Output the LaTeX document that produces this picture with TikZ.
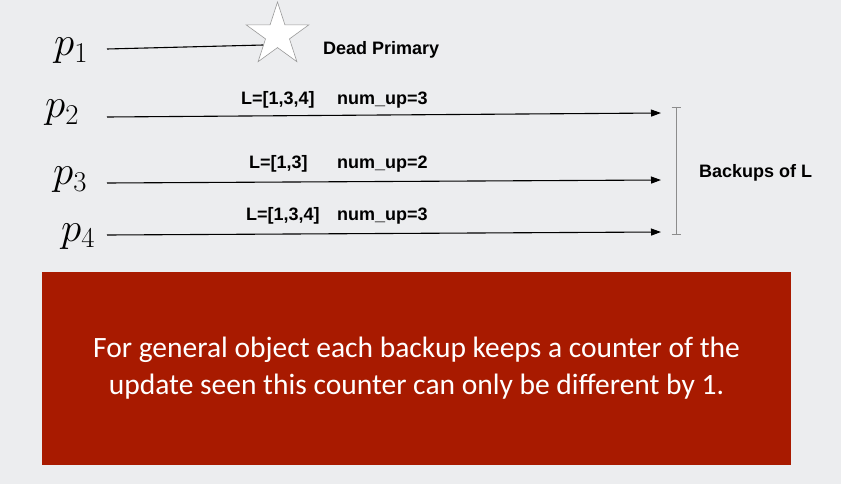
\RequirePackage{fix-cm}
\documentclass[tikz,border=0pt]{standalone}
\usepackage{fontspec}
\setmainfont{Latin Modern Roman}
\newfontfamily\lab{Liberation Sans}
\newfontfamily\boxfont{Carlito}
\usetikzlibrary{arrows.meta,shapes.geometric}
\definecolor{bg}{RGB}{236,237,239}
\definecolor{boxred}{RGB}{168,26,0}
\definecolor{brk}{RGB}{140,140,140}
\tikzset{
  plabel/.style={anchor=base west, inner sep=0pt, font=\fontsize{41}{44}\selectfont},
  tlabel/.style={anchor=base west, inner sep=0pt, font=\lab\bfseries\fontsize{18}{20}\selectfont},
  msg/.style={-{Triangle[length=10pt,width=7pt]}, line width=1.1pt, black},
  life/.style={line width=1.1pt, black},
}
\begin{document}
\begin{tikzpicture}[x=1pt,y=-1pt]
\fill[bg] (0,0) rectangle (841,484);
\useasboundingbox (0,0) rectangle (841,484);
% process labels
\node[plabel] (p1) at (54,56) {$p_1$};
\node[plabel] (p2) at (45,118) {$p_2$};
\node[plabel] (p3) at (53,185) {$p_3$};
\node[plabel] (p4) at (61,241) {$p_4$};
% start and end points
\coordinate (s1) at (107,49);
\coordinate (s2) at (107,117);
\coordinate (s3) at (107,183);
\coordinate (s4) at (107,235);
\coordinate (e2) at (661,113);
\coordinate (e3) at (661,180);
\coordinate (e4) at (661,232);
% star
\node[star, star points=5, star point ratio=2.618, draw=gray!80, fill=white, line width=0.6pt,
      minimum size=66pt, inner sep=0pt] (star) at (277.5,35) {};
\draw[life] (s1) -- (star.215);
\node[tlabel] (dead) at (323,55) {Dead Primary};
% messages
\draw[msg] (s2) -- (e2);
\draw[msg] (s3) -- (e3);
\draw[msg] (s4) -- (e4);
\node[tlabel] (l2) at (241,105) {L=[1,3,4]};
\node[tlabel] (n2) at (337,105) {num\_up=3};
\node[tlabel] (l3) at (249,168) {L=[1,3]};
\node[tlabel] (n3) at (337,168) {num\_up=2};
\node[tlabel] (l4) at (246,220) {L=[1,3,4]};
\node[tlabel] (n4) at (337,220) {num\_up=3};
% bracket
\coordinate (bt) at (676,107);
\coordinate (bb) at (676,234);
\draw[brk, line width=0.9pt] (bt) -- (bb);
\draw[brk, line width=0.9pt] ([xshift=-4.5pt]bt) -- ([xshift=4.5pt]bt);
\draw[brk, line width=0.9pt] ([xshift=-4.5pt]bb) -- ([xshift=4.5pt]bb);
\node[tlabel] (bk) at (699,178) {Backups of L};
% red box
\node[fill=boxred, minimum width=749pt, minimum height=193pt, inner sep=0pt, anchor=north west] (box) at (42,272) {};
\node[text=white, font=\boxfont\fontsize{29.5}{37}\selectfont, align=center] (txt) at (416.5,368)
  {For general object each backup keeps a counter of the\\update seen this counter can only be different by 1.};
\end{tikzpicture}
\end{document}
